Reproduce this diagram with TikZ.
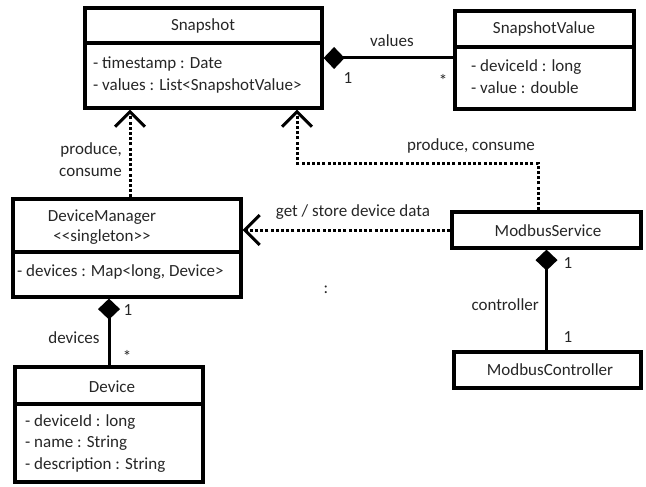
\documentclass[tikz,border=0pt]{standalone}
\usepackage{fontspec}
\setmainfont{Carlito}
\usetikzlibrary{arrows.meta}
\begin{document}
\begin{tikzpicture}[x=1pt,y=-1pt,
  every node/.style={font=\fontsize{17}{20}\selectfont, text=black!85, inner sep=0pt},
  classbox/.style={draw, line width=3.2pt, inner sep=0pt},
  divider/.style={line width=3.2pt},
  comp/.style={line width=3pt, {Diamond[length=21pt,width=22pt]}-},
  dep/.style={line width=3pt, dash pattern=on 3pt off 2.2pt, -{Straight Barb[length=15pt,width=30pt,line width=3pt]}},
  attr/.style={anchor=west},
  lbl/.style={}]
\useasboundingbox (0,0) rectangle (646,487);
% Snapshot
\node[classbox, minimum width=237pt, minimum height=100pt] (snap) at (203.5,58) {};
\draw[divider] (snap.west |- 0,43) -- (snap.east |- 0,43);
\node (snapT) at (203,26) {Snapshot};
\node[attr] (snapA1) at (93,64) {- timestamp : Date};
\node[attr] (snapA2) at (93,86) {- values : List<SnapshotValue>};
% SnapshotValue
\node[classbox, minimum width=179pt, minimum height=98pt] (sv) at (544.5,60) {};
\draw[divider] (sv.west |- 0,47) -- (sv.east |- 0,47);
\node (svT) at (544,29) {SnapshotValue};
\node[attr] (svA1) at (471,67) {- deviceId : long};
\node[attr] (svA2) at (471,88) {- value : double};
% DeviceManager
\node[classbox, minimum width=228pt, minimum height=98pt] (dm) at (127,248) {};
\draw[divider] (dm.west |- 0,252) -- (dm.east |- 0,252);
\node (dmT) at (102,217) {DeviceManager};
\node (dmS) at (102,237) {{<}{<}singleton{>}{>}};
\node[attr] (dmA1) at (17,272) {- devices : Map<long, Device>};
% Device
\node[classbox, minimum width=188pt, minimum height=115pt] (dev) at (109,424.5) {};
\draw[divider] (dev.west |- 0,404) -- (dev.east |- 0,404);
\node (devT) at (112,387) {Device};
\node[attr] (devA1) at (25,422) {- deviceId : long};
\node[attr] (devA2) at (25,443) {- name : String};
\node[attr] (devA3) at (25,465) {- description : String};
% ModbusService
\node[classbox, minimum width=189pt, minimum height=36pt] (ms) at (546.5,230) {};
\node (msT) at (548,231) {ModbusService};
% ModbusController
\node[classbox, minimum width=187pt, minimum height=36pt] (mc) at (547.5,370) {};
\node (mcT) at (550,370) {ModbusController};
% connectors
\coordinate (a1) at (130,0);
\coordinate (b1) at (538,0);
\coordinate (b2) at (297,163);
\draw[comp] (snap.east) -- (sv.west |- snap.east);
\draw[dep] (dm.north -| a1) -- (snap.south -| a1);
\draw[dep] (ms.north -| b1) |- (b2) -- (snap.south -| b2);
\draw[dep] (ms.west) -- (dm.east |- ms.west);
\draw[comp] (ms.south) -- (mc.north -| ms.south);
\draw[comp] (dm.south -| dev.north) -- (dev.north);
% labels
\node[lbl] (lValues) at (392,41) {values};
\node[lbl] (lOne1) at (348,78) {1};
\node[lbl] (lStar1) at (443,80) {*};
\node[lbl, anchor=east] (lPC1) at (122,150) {produce,};
\node[lbl, anchor=east] (lPC2) at (122,172) {consume};
\node[lbl, anchor=east] (lPC3) at (535,146) {produce, consume};
\node[lbl] (lGet) at (353,212) {get / store device data};
\node[lbl] (lColon) at (326,290) {:};
\node[lbl] (lOne2) at (568,263) {1};
\node[lbl, anchor=east] (lCtrl) at (539,305) {controller};
\node[lbl] (lOne3) at (568,337) {1};
\node[lbl] (lOne4) at (128,310) {1};
\node[lbl] (lDevices) at (74,338) {devices};
\node[lbl] (lStar2) at (127,356) {*};
\end{tikzpicture}
\end{document}
